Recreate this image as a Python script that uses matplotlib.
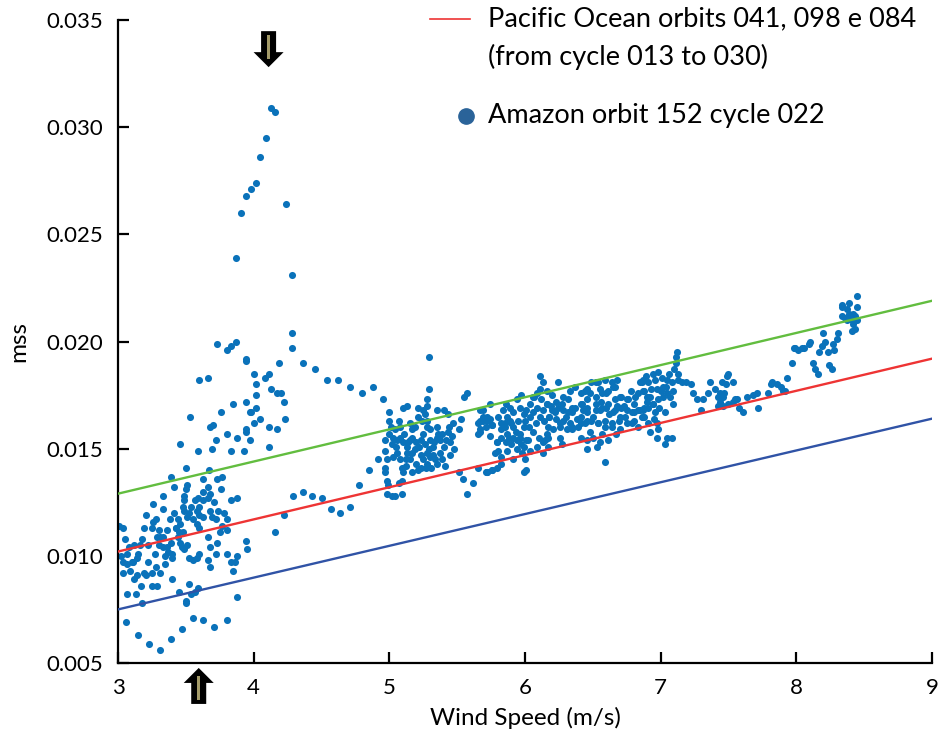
import matplotlib
matplotlib.use('Agg')
import matplotlib.pyplot as plt
from matplotlib.lines import Line2D
from matplotlib.patches import Polygon
from matplotlib.ticker import FormatStrFormatter

# Amazon orbit 152 cycle 022: (wind speed m/s, mss) pairs grouped by wind range
low_wind = [
    (3.01, 0.0114), (3.04, 0.0113), (3.05, 0.0108), (3.07, 0.0101), (3.04, 0.0097),
    (3.07, 0.0096), (3.10, 0.0097), (3.11, 0.0097), (3.14, 0.0099), (3.04, 0.0092),
    (3.12, 0.0105), (3.16, 0.0105), (3.18, 0.0108), (3.19, 0.0113), (3.25, 0.0113),
    (3.26, 0.0116), (3.28, 0.0117), (3.26, 0.0124), (3.33, 0.0128), (3.33, 0.0122),
    (3.30, 0.0112), (3.29, 0.0109), (3.31, 0.0109), (3.33, 0.0109), (3.30, 0.0105),
    (3.33, 0.0104), (3.36, 0.0104), (3.37, 0.0102), (3.40, 0.0101), (3.35, 0.0100),
    (3.40, 0.0099), (3.39, 0.0106), (3.43, 0.0113), (3.45, 0.0111), (3.48, 0.0111),
    (3.44, 0.0117), (3.46, 0.0115), (3.40, 0.0089), (3.35, 0.0096), (3.31, 0.0092),
    (3.25, 0.0092), (3.21, 0.0091), (3.19, 0.0092), (3.14, 0.0091), (3.12, 0.0089),
    (3.17, 0.0086), (3.07, 0.0082), (3.13, 0.0082), (3.25, 0.0086), (3.18, 0.0078),
    (3.06, 0.0069), (3.15, 0.0063), (3.23, 0.0059), (3.31, 0.0056), (3.39, 0.0061),
    (3.47, 0.0066), (3.55, 0.0071), (3.63, 0.0070), (3.71, 0.0067), (3.80, 0.0070),
    (3.45, 0.0083), (3.50, 0.0079), (3.54, 0.0082), (3.57, 0.0083), (3.59, 0.0085),
    (3.52, 0.0087), (3.88, 0.0081), (3.50, 0.0078), (3.08, 0.0104), (3.15, 0.0101),
    (3.22, 0.0105), (3.27, 0.0101), (3.22, 0.0097), (3.02, 0.0100), (3.09, 0.0093),
    (3.28, 0.0095), (3.36, 0.0112), (3.41, 0.0120), (3.38, 0.0117), (3.21, 0.0119),
    (3.29, 0.0086),
]

mid_cluster = [
    (3.50, 0.0141), (3.39, 0.0137), (3.41, 0.0132), (3.51, 0.0133), (3.50, 0.0131),
    (3.49, 0.0128), (3.49, 0.0126), (3.48, 0.0123), (3.49, 0.0121), (3.52, 0.0120),
    (3.54, 0.0123), (3.51, 0.0118), (3.55, 0.0117), (3.58, 0.0121), (3.60, 0.0123),
    (3.63, 0.0126), (3.66, 0.0127), (3.68, 0.0129), (3.63, 0.0136), (3.67, 0.0140),
    (3.73, 0.0136), (3.77, 0.0137), (3.76, 0.0131), (3.71, 0.0125), (3.74, 0.0121),
    (3.78, 0.0120), (3.80, 0.0117), (3.77, 0.0114), (3.80, 0.0112), (3.75, 0.0111),
    (3.73, 0.0106), (3.68, 0.0104), (3.66, 0.0109), (3.60, 0.0113), (3.58, 0.0115),
    (3.60, 0.0119), (3.63, 0.0118), (3.68, 0.0121), (3.43, 0.0113), (3.44, 0.0109),
    (3.46, 0.0106), (3.47, 0.0104), (3.49, 0.0103), (3.51, 0.0105), (3.52, 0.0099),
    (3.55, 0.0098), (3.58, 0.0099), (3.60, 0.0101), (3.66, 0.0098), (3.68, 0.0095),
    (3.72, 0.0101), (3.80, 0.0101), (3.83, 0.0097), (3.86, 0.0097), (3.85, 0.0093),
    (3.88, 0.0100), (3.83, 0.0126), (3.88, 0.0127), (3.94, 0.0107), (3.95, 0.0103),
    (3.63, 0.0130), (3.66, 0.0132), (3.59, 0.0127), (3.57, 0.0126), (3.69, 0.0118),
    (3.72, 0.0117),
]

spike = [
    (3.73, 0.0199), (3.80, 0.0196), (3.83, 0.0198), (3.87, 0.0200), (3.94, 0.0191),
    (3.60, 0.0182), (3.66, 0.0183), (3.85, 0.0171), (3.94, 0.0172), (3.97, 0.0167),
    (3.76, 0.0167), (3.53, 0.0165), (3.68, 0.0160), (3.70, 0.0161), (3.80, 0.0157),
    (3.88, 0.0155), (3.94, 0.0158), (3.72, 0.0154), (3.46, 0.0152), (3.69, 0.0150),
    (3.59, 0.0149), (3.83, 0.0149), (3.93, 0.0149), (3.97, 0.0154),
    (4.13, 0.0309), (4.16, 0.0307), (4.09, 0.0295), (4.05, 0.0286), (4.02, 0.0274),
    (3.98, 0.0271), (3.94, 0.0268), (3.91, 0.0260), (4.24, 0.0264), (3.87, 0.0239),
    (4.28, 0.0231), (4.28, 0.0204), (4.28, 0.0197), (4.36, 0.0190), (4.45, 0.0187),
    (4.54, 0.0182), (4.62, 0.0182), (3.94, 0.0192), (4.19, 0.0190), (4.00, 0.0185),
    (4.11, 0.0185), (4.08, 0.0183), (4.02, 0.0180), (4.13, 0.0178), (4.17, 0.0176),
    (4.20, 0.0176), (4.22, 0.0172), (4.02, 0.0175), (4.02, 0.0169), (3.98, 0.0167),
    (4.05, 0.0164), (4.00, 0.0162), (4.11, 0.0160), (4.17, 0.0159), (4.23, 0.0164),
    (3.94, 0.0159), (4.11, 0.0151),
]

bridge = [
    (4.16, 0.0111), (4.22, 0.0119), (4.29, 0.0128), (4.36, 0.0130), (4.43, 0.0128),
    (4.50, 0.0127), (4.57, 0.0122), (4.64, 0.0120), (4.71, 0.0123), (4.78, 0.0133),
    (4.85, 0.0140), (4.92, 0.0145), (4.71, 0.0179), (4.80, 0.0176), (4.88, 0.0179),
    (4.95, 0.0173),
]

cluster_5 = [
    (5.29, 0.0193), (5.57, 0.0176), (5.55, 0.0174), (5.29, 0.0178), (5.28, 0.0173),
    (5.28, 0.0170), (5.10, 0.0169), (5.13, 0.0170), (5.21, 0.0169), (5.25, 0.0168),
    (5.35, 0.0168), (5.40, 0.0168), (5.43, 0.0166), (5.00, 0.0167), (5.00, 0.0163),
    (5.15, 0.0162), (5.19, 0.0160), (5.08, 0.0160), (5.04, 0.0159), (5.00, 0.0157),
    (4.97, 0.0154), (5.02, 0.0152), (4.97, 0.0149), (4.98, 0.0145), (4.97, 0.0141),
    (4.97, 0.0139), (4.98, 0.0135), (4.99, 0.0133), (4.98, 0.0129), (5.02, 0.0128),
    (5.04, 0.0128), (5.09, 0.0129), (5.07, 0.0134), (5.09, 0.0135), (5.10, 0.0139),
    (5.09, 0.0141), (5.12, 0.0145), (5.17, 0.0139), (5.23, 0.0141), (5.28, 0.0143),
    (5.31, 0.0141), (5.35, 0.0143), (5.41, 0.0142), (5.03, 0.0155), (5.06, 0.0154),
    (5.08, 0.0155), (5.10, 0.0153), (5.13, 0.0151), (5.15, 0.0154), (5.17, 0.0155),
    (5.20, 0.0153), (5.23, 0.0154), (5.25, 0.0157), (5.28, 0.0160), (5.30, 0.0154),
    (5.32, 0.0151), (5.35, 0.0155), (5.37, 0.0154), (5.40, 0.0151), (5.42, 0.0154),
    (5.45, 0.0153), (5.13, 0.0148), (5.17, 0.0148), (5.23, 0.0147), (5.28, 0.0148),
    (5.32, 0.0147), (5.37, 0.0148), (5.15, 0.0145), (5.20, 0.0143), (5.25, 0.0145),
    (5.06, 0.0148), (5.08, 0.0145), (5.17, 0.0159), (5.24, 0.0163), (5.28, 0.0163),
    (5.35, 0.0160), (5.39, 0.0157), (5.30, 0.0159), (5.53, 0.0164), (5.47, 0.0162),
    (5.51, 0.0159), (5.43, 0.0158), (5.51, 0.0139), (5.54, 0.0136), (5.62, 0.0134),
    (5.57, 0.0129), (5.05, 0.0151), (5.11, 0.0157), (5.14, 0.0153), (5.19, 0.0150),
    (5.22, 0.0151), (5.26, 0.0152), (5.29, 0.0150), (5.33, 0.0153), (5.36, 0.0157),
    (5.39, 0.0145), (5.34, 0.0145), (5.30, 0.0146), (5.27, 0.0141), (5.21, 0.0140),
    (5.12, 0.0142), (5.03, 0.0146), (5.01, 0.0160), (5.07, 0.0163), (5.21, 0.0165),
    (5.26, 0.0166), (5.44, 0.0160), (5.46, 0.0156), (5.48, 0.0150), (5.45, 0.0147),
]

cluster_6 = [
    (5.74, 0.0171), (5.69, 0.0165), (5.72, 0.0163), (5.76, 0.0161), (5.65, 0.0162),
    (5.67, 0.0159), (5.65, 0.0157), (5.65, 0.0141), (5.72, 0.0139), (5.76, 0.0140),
    (5.79, 0.0141), (5.79, 0.0153), (5.80, 0.0149), (6.11, 0.0184), (6.13, 0.0181),
    (6.11, 0.0178), (6.09, 0.0176), (6.16, 0.0177), (6.20, 0.0175), (6.24, 0.0181),
    (5.67, 0.0168), (5.72, 0.0165), (5.69, 0.0163), (5.74, 0.0164), (5.84, 0.0168),
    (5.89, 0.0169), (5.94, 0.0173), (5.96, 0.0169), (5.91, 0.0167), (5.87, 0.0165),
    (5.82, 0.0162), (5.85, 0.0160), (5.90, 0.0162), (5.95, 0.0163), (5.99, 0.0166),
    (6.01, 0.0168), (6.04, 0.0171), (6.07, 0.0174), (6.12, 0.0173), (6.16, 0.0171),
    (6.20, 0.0168), (6.18, 0.0165), (6.17, 0.0160), (6.16, 0.0157), (6.15, 0.0154),
    (6.17, 0.0151), (6.13, 0.0148), (6.09, 0.0151), (6.04, 0.0149), (6.01, 0.0154),
    (5.96, 0.0155), (5.91, 0.0155), (5.87, 0.0157), (5.82, 0.0155), (5.79, 0.0153),
    (5.78, 0.0148), (5.82, 0.0146), (5.87, 0.0149), (5.90, 0.0152), (5.94, 0.0150),
    (5.98, 0.0148), (6.00, 0.0145), (6.01, 0.0140), (5.99, 0.0139), (5.91, 0.0145),
    (5.72, 0.0139), (5.76, 0.0140), (5.82, 0.0143), (5.71, 0.0139), (5.69, 0.0168),
    (5.67, 0.0163), (5.72, 0.0164), (5.76, 0.0161), (5.71, 0.0160), (5.67, 0.0158),
    (5.74, 0.0156), (5.80, 0.0165), (5.85, 0.0162), (5.82, 0.0159), (5.89, 0.0163),
    (5.91, 0.0160), (5.88, 0.0155), (5.94, 0.0154), (5.96, 0.0157), (5.99, 0.0160),
    (6.00, 0.0163), (6.04, 0.0165), (6.06, 0.0167), (6.09, 0.0169), (6.13, 0.0168),
    (6.16, 0.0171), (6.18, 0.0165), (6.22, 0.0167), (6.24, 0.0169), (6.28, 0.0168),
    (6.26, 0.0162), (6.21, 0.0159), (6.17, 0.0155), (6.13, 0.0153), (6.10, 0.0155),
    (6.06, 0.0158), (6.02, 0.0154), (5.99, 0.0151), (5.86, 0.0153), (5.93, 0.0158),
    (5.97, 0.0152), (6.03, 0.0160), (6.08, 0.0162), (6.11, 0.0165), (6.14, 0.0163),
    (6.19, 0.0170), (6.23, 0.0172), (6.27, 0.0171), (6.23, 0.0164), (6.06, 0.0174),
    (5.97, 0.0175), (5.86, 0.0171),
]

cluster_65 = [
    (6.28, 0.0174), (6.33, 0.0177), (6.41, 0.0176), (6.46, 0.0178), (6.52, 0.0181),
    (6.55, 0.0178), (6.60, 0.0176), (6.65, 0.0179), (6.68, 0.0182), (6.70, 0.0174),
    (6.75, 0.0173), (6.80, 0.0171), (6.85, 0.0181), (6.87, 0.0177), (6.90, 0.0174),
    (6.85, 0.0168), (6.80, 0.0167), (6.75, 0.0168), (6.70, 0.0165), (6.65, 0.0167),
    (6.60, 0.0169), (6.55, 0.0168), (6.52, 0.0171), (6.46, 0.0169), (6.41, 0.0171),
    (6.35, 0.0169), (6.32, 0.0167), (6.28, 0.0163), (6.26, 0.0160), (6.31, 0.0159),
    (6.35, 0.0160), (6.41, 0.0162), (6.46, 0.0163), (6.50, 0.0165), (6.54, 0.0162),
    (6.59, 0.0163), (6.64, 0.0160), (6.70, 0.0159), (6.75, 0.0162), (6.80, 0.0163),
    (6.87, 0.0165), (6.41, 0.0155), (6.46, 0.0154), (6.50, 0.0155), (6.55, 0.0153),
    (6.61, 0.0154), (6.53, 0.0151), (6.46, 0.0150), (6.26, 0.0155), (6.27, 0.0152),
    (6.59, 0.0144), (6.37, 0.0179), (6.44, 0.0177), (6.49, 0.0181), (6.54, 0.0181),
    (6.59, 0.0182), (6.64, 0.0181), (6.66, 0.0179), (6.61, 0.0177), (6.57, 0.0176),
    (6.52, 0.0174), (6.46, 0.0173), (6.42, 0.0171), (6.37, 0.0169), (6.32, 0.0173),
    (6.35, 0.0167), (6.41, 0.0165), (6.46, 0.0167), (6.52, 0.0168), (6.57, 0.0169),
    (6.61, 0.0171), (6.66, 0.0173), (6.71, 0.0174), (6.76, 0.0173), (6.81, 0.0174),
    (6.86, 0.0181), (6.88, 0.0177), (6.91, 0.0174), (6.94, 0.0171), (6.88, 0.0169),
    (6.83, 0.0168), (6.79, 0.0167), (6.74, 0.0165), (6.69, 0.0163), (6.64, 0.0162),
    (6.59, 0.0160), (6.54, 0.0162), (6.49, 0.0163), (6.44, 0.0162), (6.39, 0.0160),
    (6.35, 0.0159), (6.79, 0.0162), (6.83, 0.0160), (6.88, 0.0165), (6.91, 0.0162),
    (6.71, 0.0169), (6.66, 0.0168), (6.30, 0.0165), (6.33, 0.0162), (6.38, 0.0164),
    (6.43, 0.0168), (6.48, 0.0176), (6.56, 0.0172), (6.62, 0.0166), (6.68, 0.0170),
    (6.73, 0.0170), (6.78, 0.0177), (6.83, 0.0176), (6.48, 0.0158), (6.57, 0.0157),
    (6.67, 0.0157),
]

cluster_7 = [
    (7.12, 0.0195), (7.11, 0.0193), (7.11, 0.0190), (7.13, 0.0185), (7.13, 0.0182),
    (6.87, 0.0182), (6.91, 0.0181), (6.94, 0.0185), (6.98, 0.0186), (7.01, 0.0183),
    (7.05, 0.0182), (7.08, 0.0181), (7.09, 0.0177), (7.05, 0.0176), (7.02, 0.0174),
    (6.98, 0.0173), (6.94, 0.0171), (6.91, 0.0169), (6.87, 0.0168), (6.92, 0.0174),
    (6.97, 0.0178), (7.02, 0.0179), (7.07, 0.0174), (6.99, 0.0169), (7.03, 0.0167),
    (6.96, 0.0167), (6.90, 0.0172), (6.86, 0.0165), (7.09, 0.0171), (6.97, 0.0162),
    (6.98, 0.0159), (6.97, 0.0155), (7.03, 0.0152), (7.08, 0.0155), (7.05, 0.0155),
    (7.16, 0.0181), (7.19, 0.0181), (7.22, 0.0180), (7.24, 0.0176), (7.27, 0.0173),
    (7.31, 0.0173), (7.35, 0.0176), (7.36, 0.0181), (7.40, 0.0178), (7.30, 0.0168),
    (7.42, 0.0170), (7.44, 0.0172), (7.46, 0.0174), (7.47, 0.0176), (7.48, 0.0180),
    (7.49, 0.0184), (7.50, 0.0185), (7.45, 0.0181), (7.44, 0.0176), (7.42, 0.0174),
    (7.46, 0.0170), (7.50, 0.0171), (7.53, 0.0172), (7.55, 0.0173), (7.53, 0.0181),
    (7.56, 0.0173), (7.58, 0.0169), (7.61, 0.0167), (7.64, 0.0174), (7.68, 0.0175),
    (7.71, 0.0176), (7.72, 0.0169), (7.79, 0.0176), (7.82, 0.0181), (7.86, 0.0180),
    (7.90, 0.0177), (7.93, 0.0183), (7.97, 0.0190), (7.99, 0.0197), (8.01, 0.0196),
    (6.93, 0.0178), (6.96, 0.0182), (7.00, 0.0177), (7.04, 0.0179), (7.06, 0.0185),
    (7.10, 0.0187), (6.89, 0.0184), (6.95, 0.0164), (6.92, 0.0158),
]

high_wind = [
    (8.45, 0.0221), (8.39, 0.0218), (8.34, 0.0217), (8.34, 0.0216), (8.37, 0.0215),
    (8.39, 0.0213), (8.34, 0.0212), (8.36, 0.0211), (8.40, 0.0211), (8.42, 0.0213),
    (8.45, 0.0216), (8.43, 0.0212), (8.41, 0.0210), (8.37, 0.0210), (8.42, 0.0208),
    (8.41, 0.0205), (8.43, 0.0206), (8.45, 0.0210), (8.20, 0.0204), (8.31, 0.0204),
    (8.30, 0.0201), (8.27, 0.0199), (8.28, 0.0196), (8.23, 0.0195), (8.21, 0.0200),
    (8.19, 0.0198), (8.17, 0.0195), (7.98, 0.0197), (8.04, 0.0197), (8.06, 0.0197),
    (8.09, 0.0199), (8.10, 0.0200), (8.12, 0.0190), (8.14, 0.0187), (8.16, 0.0185),
    (8.24, 0.0189), (8.26, 0.0187), (7.81, 0.0180), (7.89, 0.0179), (7.92, 0.0177),
]

# Pacific Ocean linear fit and the two bounding lines
fit_ws = [3, 9]
fit_upper = [0.0129, 0.0219]
fit_pacific = [0.0102, 0.0192]
fit_lower = [0.0075, 0.0164]

legend_labels = ['Pacific Ocean orbits 041, 098 e 084', '(from cycle 013 to 030)',
                 'Amazon orbit 152 cycle 022']

# arrows marking the wind speeds of interest (tip position in data units)
arrow_down = (4.11, 0.0328)
arrow_up = (3.595, 0.00477)

plt.rcParams['font.family'] = ['Lato', 'DejaVu Sans']

fig = plt.figure(figsize=(9.4, 7.43), dpi=100)
ax = fig.add_axes([118 / 940, 80 / 743, 814 / 940, 643 / 743])

pts = low_wind + mid_cluster + spike + bridge + cluster_5 + cluster_6 + cluster_65 + cluster_7 + high_wind
ws = [p[0] for p in pts]
mss = [p[1] for p in pts]
ax.scatter(ws, mss, s=26, color='#0a72ba', linewidths=0, zorder=2)

ax.plot(fit_ws, fit_upper, color='#62bd3f', lw=1.7, zorder=3)
ax.plot(fit_ws, fit_pacific, color='#ee3434', lw=1.7, zorder=3)
ax.plot(fit_ws, fit_lower, color='#3053a6', lw=1.7, zorder=3)

ax.set_xlim(3, 9)
ax.set_ylim(0.005, 0.035)
ax.set_xticks(range(3, 10))
ax.set_yticks([0.005, 0.010, 0.015, 0.020, 0.025, 0.030, 0.035])
ax.yaxis.set_major_formatter(FormatStrFormatter('%.3f'))
for side in ['top', 'right']:
    ax.spines[side].set_visible(False)
for side in ['left', 'bottom']:
    ax.spines[side].set_linewidth(1.6)
ax.tick_params(direction='in', length=8, width=1.6, labelsize=16, pad=11)
ax.set_xlabel('Wind Speed (m/s)', fontsize=17.5, labelpad=6)
ax.set_ylabel('mss', fontsize=17.5, labelpad=12)


def block_arrow(ax, tip, sign):
    # black block arrow with a khaki stripe, sized in pixels around the tip
    head = [(0, 0), (-15, 15), (-7.5, 15), (-7.5, 36), (7.5, 36), (7.5, 15), (15, 15)]
    stripe = [(-1.7, 8), (1.7, 8), (1.7, 32), (-1.7, 32)]
    x0, y0 = ax.transData.transform(tip)
    inv = ax.transData.inverted()
    for verts, fc in [(head, 'black'), (stripe, '#a39a68')]:
        d = inv.transform([(x0 + dx, y0 + sign * dy) for dx, dy in verts])
        ax.add_patch(Polygon(d, closed=True, fc=fc, ec='none', clip_on=False, zorder=5))


block_arrow(ax, arrow_down, 1)
block_arrow(ax, arrow_up, -1)

# legend drawn by hand in figure pixels
W, H = 940, 743
fig.add_artist(Line2D([430 / W, 470 / W], [1 - 19 / H, 1 - 19 / H], color='#ee3434', lw=1.2))
fig.add_artist(Line2D([466 / W], [1 - 116 / H], marker='o', ms=11, color='#2a6399', lw=0))
fig.text(488 / W, 1 - 19 / H, legend_labels[0], fontsize=19.5, va='center')
fig.text(488 / W, 1 - 57 / H, legend_labels[1], fontsize=19.5, va='center')
fig.text(488 / W, 1 - 116 / H, legend_labels[2], fontsize=19.5, va='center')

fig.savefig('out.png', dpi=100)
